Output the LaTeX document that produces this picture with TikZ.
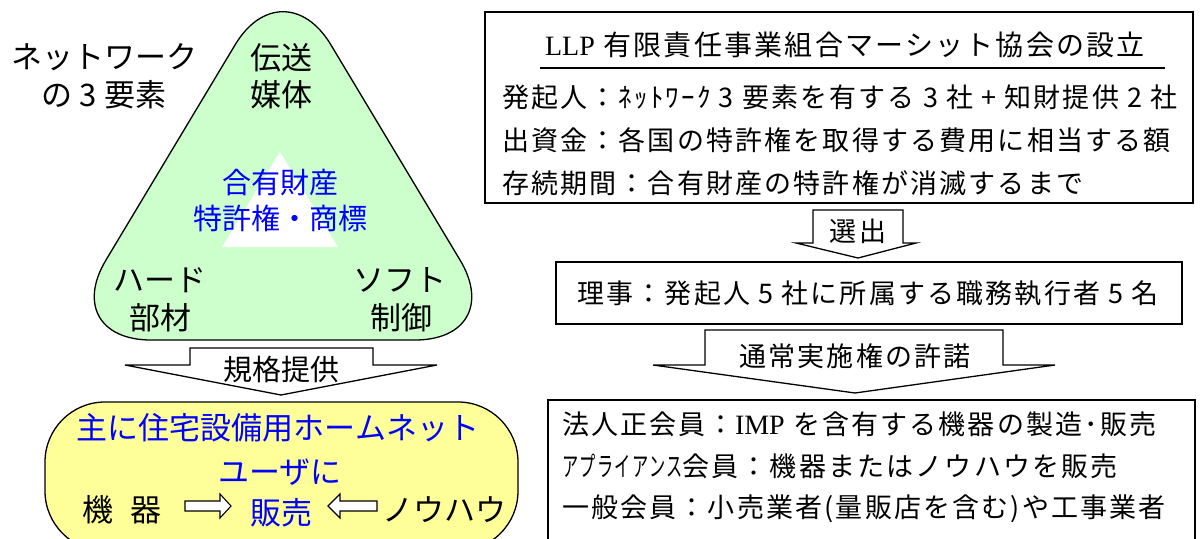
\documentclass[tikz,border=0pt]{standalone}
\usepackage{graphicx}
\usepackage{fontspec}
\setmainfont{Noto Sans CJK JP}
\newfontfamily\rjp[LetterSpace=8]{Noto Sans CJK JP}
\newfontfamily\lserif{Liberation Serif}
\definecolor{tri}{HTML}{CCFFCC}
\definecolor{ylw}{HTML}{FFFF99}
\definecolor{bl}{HTML}{0000FF}
\newcommand\fs[1]{\fontsize{#1pt}{#1pt}\selectfont}
\begin{document}
\begin{tikzpicture}[x=1pt,y=-1pt,
  lw/.style={line width=1.3pt},
  txt/.style={inner sep=0pt, font=\fs{31}},
  btxt/.style={inner sep=0pt, text=bl, font=\fs{31}},
  rtxt/.style={inner sep=0pt, font=\rjp\fs{27}},
  ltxt/.style={inner sep=0pt, anchor=west, font=\rjp\fs{27}},
  barrow/.style={lw, fill=white, line join=miter},
  frame/.style={lw, draw, inner sep=0pt}]
\useasboundingbox (0,0) rectangle (1201,538);
% ---- left: triangle
\draw[lw, fill=tri, rounded corners=93pt] (170.5,152.5) -- (283,-35) -- (508,340) -- (58,340) -- cycle;
\fill[white] (280,152) -- (338,247) -- (222,247) -- cycle;
\node[txt] (net1) at (104,57) {ネットワーク};
\node[txt] (net2) at (104,95) {の 3 要素};
\node[txt] (den1) at (281,58) {伝送};
\node[txt] (den2) at (281,95) {媒体};
\node[btxt, font=\fs{29}] (ip1) at (280,182) {合有財産};
\node[btxt, font=\fs{29}] (ip2) at (280,218) {特許権・商標};
\node[txt] (hw1) at (160,280) {ハード};
\node[txt] (hw2) at (160,318) {部材};
\node[txt] (sw1) at (400,280) {ソフト};
\node[txt] (sw2) at (401,318) {制御};
% ---- standard arrow
\draw[barrow] (190,348) -- (373,348) -- (373,365) -- (437,365) -- (281,395) -- (125,365) -- (190,365) -- cycle;
\node[txt, font=\fs{29}] (kikaku) at (281,369) {規格提供};
% ---- yellow box
\draw[lw, fill=ylw, rounded corners=60pt] (45,402) rectangle (518,551);
\node[btxt] (y1) at (278,428) {主に住宅設備用ホームネット};
\node[btxt] (y2) at (280,472) {ユーザに};
\node[txt] (kiki) at (122,510) {機\hspace{0.55em}器};
\node[btxt] (hanbai) at (281,513) {販売};
\node[txt] (nouhau) at (444,510) {ノウハウ};
\draw[barrow, line width=1.1pt] (185,501) -- (220,501) -- (220,494) -- (231,506) -- (220,518) -- (220,511) -- (185,511) -- cycle;
\draw[barrow, line width=1.1pt] (377,501) -- (340,501) -- (340,494) -- (328,506) -- (340,518) -- (340,511) -- (377,511) -- cycle;
% ---- right: top box
\node[frame, minimum width=708pt, minimum height=191pt] (setup) at (839,107.5) {};
\node[rtxt, font=\rjp\fs{28}] (title) at (845,45) {{\lserif\fs{28}LLP} 有限責任事業組合マーシット協会の設立};
\draw[lw] (540,68) -- (1165,68);
\node[ltxt] (l1) at (502,97) {発起人：ﾈｯﾄﾜｰｸ 3 要素を有する 3 社 + 知財提供 2 社};
\node[ltxt] (l2) at (502,140) {出資金：各国の特許権を取得する費用に相当する額};
\node[ltxt] (l3) at (502,183) {存続期間：合有財産の特許権が消滅するまで};
% ---- select arrow
\draw[barrow] (813,210) -- (903,210) -- (903,243) -- (916,243) -- (858,258) -- (796,243) -- (813,243) -- cycle;
\node[rtxt] (sen) at (858,231) {選出};
% ---- board box
\node[frame, minimum width=626pt, minimum height=62pt] (board) at (869,293) {};
\node[rtxt] (rij) at (868,293) {理事：発起人 5 社に所属する職務執行者 5 名};
% ---- license arrow
\draw[barrow] (705,330) -- (1003,330) -- (1003,365) -- (1055,365) -- (855,393) -- (653,365) -- (705,365) -- cycle;
\node[rtxt] (kyo) at (855,356) {通常実施権の許諾};
% ---- members box
\node[frame, minimum width=647pt, minimum height=160pt] (mem) at (871.5,480) {};
\node[ltxt] (m1) at (562,424) {法人正会員：{\lserif\fs{28}IMP} を含有する機器の製造･販売};
\node[ltxt] (m2) at (562,466.5) {\scalebox{0.6}[1]{アプライアンス}会員：機器またはノウハウを販売};
\node[ltxt] (m3) at (562,509) {一般会員：小売業者(量販店を含む)や工事業者};
\end{tikzpicture}
\end{document}
